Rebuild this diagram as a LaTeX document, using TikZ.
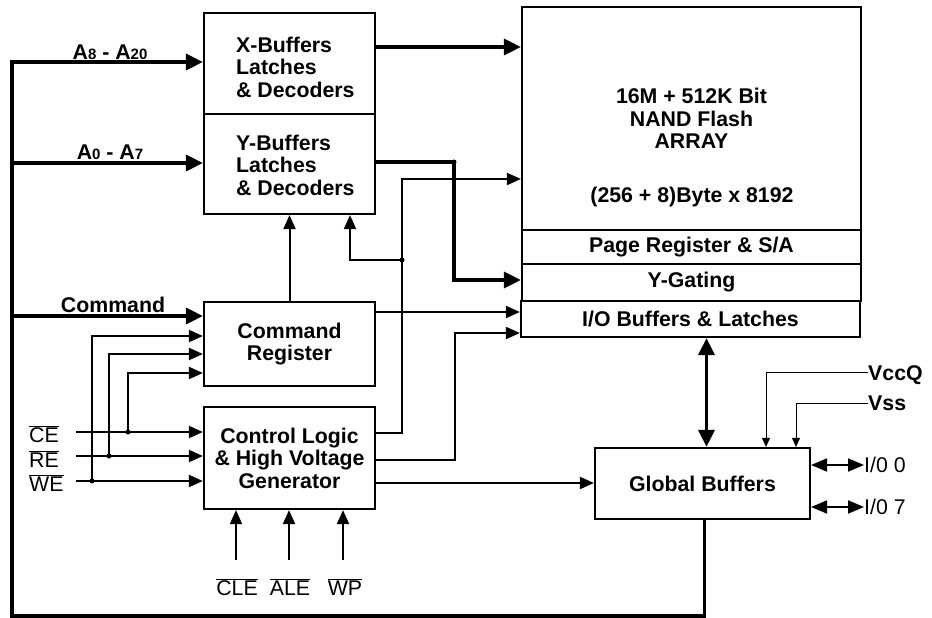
\documentclass[tikz,border=0pt]{standalone}
\usepackage{fontspec}
\setmainfont{Liberation Sans}
\usepackage{tikz}
\usetikzlibrary{arrows.meta}

\newcommand{\ovl}[1]{$\overline{\mbox{#1}}$}
\newcommand{\sm}[1]{{\fontsize{15}{15}\selectfont #1}}

\tikzset{
	blk/.style={draw, line width=2.2pt, inner sep=0pt, align=center, font=\bfseries\fontsize{21.3}{22.5}\selectfont},
	lbl/.style={inner sep=0pt, font=\bfseries\fontsize{21.3}{22.5}\selectfont},
	pin/.style={inner sep=0pt, font=\fontsize{21.3}{22.5}\selectfont},
	bus/.style={line width=3.2pt, -{Triangle[length=17pt,width=16pt]}},
	dblbus/.style={line width=3.2pt, {Triangle[length=17pt,width=16pt]}-{Triangle[length=17pt,width=16pt]}},
	sig/.style={line width=2pt, -{Triangle[length=14pt,width=12pt]}},
	dblsig/.style={line width=2pt, {Triangle[length=16pt,width=13pt]}-{Triangle[length=16pt,width=13pt]}},
	pwr/.style={line width=1pt, -{Triangle[length=9pt,width=8pt]}},
	dot/.style={circle, fill, inner sep=0pt, minimum size=5pt}
}

\begin{document}
\begin{tikzpicture}[x=1pt,y=-1pt]
	\useasboundingbox (0,0) rectangle (932,618);
	
	% left blocks
	\node[blk, minimum width=171pt, minimum height=101pt] (xb) at (289.5,63.5) {};
	\node[lbl, align=left, anchor=west] (xbt) at (236,67) {X-Buffers\\Latches\\\& Decoders};
	\node[blk, minimum width=171pt, minimum height=100pt] (yb) at (289.5,164) {};
	\node[lbl, align=left, anchor=west] (ybt) at (236,165) {Y-Buffers\\Latches\\\& Decoders};
	\node[blk, minimum width=171pt, minimum height=84pt] (cmd) at (289.5,344) {Command\\Register};
	\node[blk, minimum width=171pt, minimum height=102pt] (ctl) at (289.5,458) {Control Logic\\\& High Voltage\\Generator};
	
	% array side
	\node[blk, minimum width=339pt, minimum height=223pt] (arr) at (691.5,118.5) {16M + 512K Bit\\NAND Flash\\ARRAY};
	\node[lbl] (arrsz) at (692,197) {(256 + 8)Byte x 8192};
	\node[blk, minimum width=339pt, minimum height=34pt] (pr) at (691.5,247) {Page Register \& S/A};
	\node[blk, minimum width=339pt, minimum height=37pt] (yg) at (691.5,282.5) {Y-Gating};
	\node[blk, minimum width=339pt, minimum height=36pt] (io) at (690.5,319) {I/O Buffers \& Latches};
	\node[blk, minimum width=215pt, minimum height=71pt] (gb) at (702.5,483.5) {Global Buffers};
	
	%-------------------------------------
	% address and command buses
	\draw[bus] ([xshift=2pt]gb.south) -- ([xshift=2pt]gb.south |- 0,616) -| (12,62) -- (xb.west |- 0,62);
	\draw[bus] (12,163) -- (yb.west |- 0,163);
	\draw[bus] (12,316) -- (cmd.west |- 0,316);
	\node[lbl] (ahi) at (110,52) {A\sm{8} - A\sm{20}};
	\node[lbl] (alo) at (110,152) {A\sm{0} - A\sm{7}};
	\node[lbl] (cmdlbl) at (113,305) {Command};
	
	% decoder outputs
	\draw[bus] (xb.east |- 0,47) -- (arr.west |- 0,47);
	\draw[bus] (yb.east |- 0,162) -- (454,162) |- (yg.west |- 0,280);
	\node[dot] (dy) at (454,162) {};
	\draw[sig] (cmd.north) -- (yb.south);
	
	% control logic outputs
	\draw[sig] (ctl.east |- 0,433) -| (402,179) -- (arr.west |- 0,179);
	\node[dot] (dc) at (402,260) {};
	\draw[sig] (dc.center) -| (yb.south -| 350,0);
	\draw[sig] (cmd.east |- 0,312) -- (io.west |- 0,312);
	\draw[sig] (ctl.east |- 0,460) -| (455,333) -- (io.west |- 0,333);
	\draw[sig] (ctl.east |- 0,483) -- (gb.west |- 0,483);
	\draw[dblbus] ([xshift=4pt]gb.north |- io.south) -- ([xshift=4pt]gb.north);
	
	%-------------------------------------
	% control pins
	\node[pin, anchor=west] (ce) at (29,434) {\ovl{CE}};
	\node[pin, anchor=west] (re) at (29,459) {\ovl{RE}};
	\node[pin, anchor=west] (we) at (29,483) {\ovl{WE}};
	\coordinate (cein) at (76,432);
	\coordinate (rein) at (76,456);
	\coordinate (wein) at (76,481);
	\draw[sig] (cein) -- (ctl.west |- cein);
	\draw[sig] (rein) -- (ctl.west |- rein);
	\draw[sig] (wein) -- (ctl.west |- wein);
	\node[dot] (dwe) at (92,481) {};
	\node[dot] (dre) at (109,456) {};
	\node[dot] (dce) at (128,432) {};
	\draw[sig] (dwe.center) |- (cmd.west |- 0,336);
	\draw[sig] (dre.center) |- (cmd.west |- 0,354);
	\draw[sig] (dce.center) |- (cmd.west |- 0,373);
	
	\node[pin] (cle) at (237,587) {\ovl{CLE}};
	\node[pin] (ale) at (290,587) {\ovl{ALE}};
	\node[pin] (wp) at (345,587) {\ovl{WP}};
	\draw[sig] (236,560) -- (ctl.south -| 236,0);
	\draw[sig] (289,560) -- (ctl.south -| 289,0);
	\draw[sig] (343,560) -- (ctl.south -| 343,0);
	
	%-------------------------------------
	% supply and data pins
	\node[lbl, anchor=west] (vcc) at (868,375) {VccQ};
	\node[lbl, anchor=west] (vss) at (868,403) {Vss};
	\draw[pwr] (vcc.west |- 0,372) -| (gb.north -| 766,0);
	\draw[pwr] (vss.west |- 0,403) -| (gb.north -| 796,0);
	
	\node[pin, anchor=west] (io0) at (864,465) {I/0 0};
	\node[pin, anchor=west] (io7) at (864,507) {I/0 7};
	\draw[dblsig] (gb.east |- io0.west) -- (io0.west);
	\draw[dblsig] (gb.east |- io7.west) -- (io7.west);
	
\end{tikzpicture}
\end{document}
